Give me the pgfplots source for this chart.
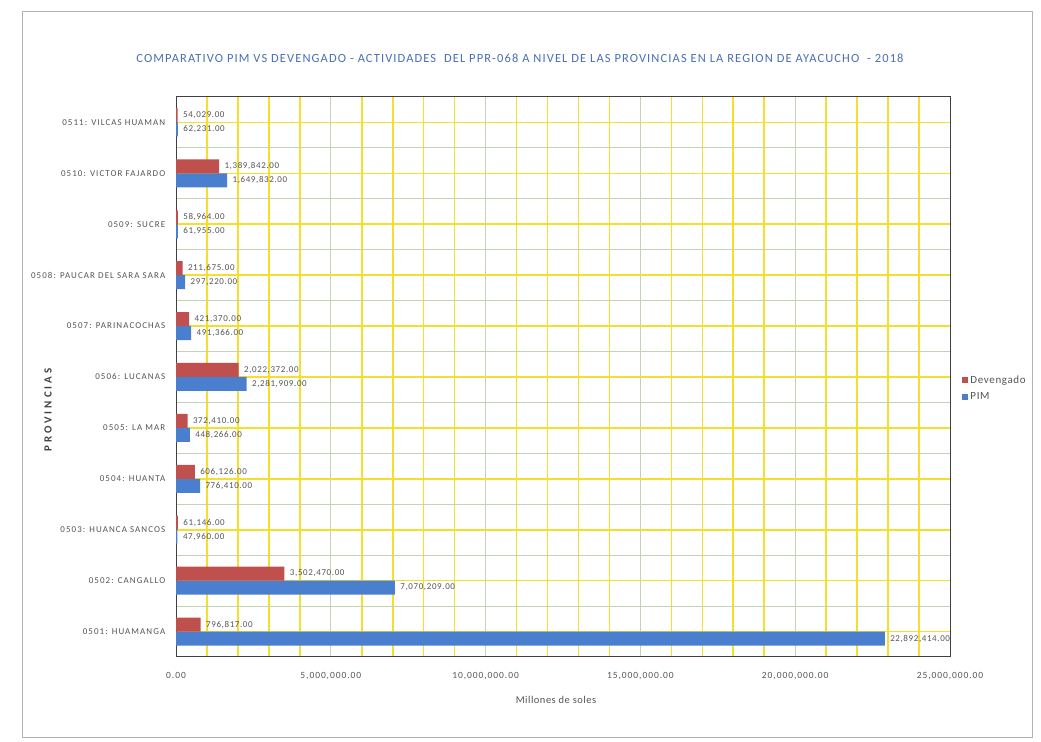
\documentclass[border=0pt]{standalone}
\usepackage{pgfplots}
\pgfplotsset{compat=1.18}
\usepackage{pgfplotstable}
\usepackage{fontspec}
\setmainfont{Carlito}

\definecolor{devred}{HTML}{C0504D}
\definecolor{pimblue}{HTML}{4A7FD0}
\definecolor{gridyellow}{HTML}{F3E02C}
\definecolor{gridgreen}{HTML}{C5D3B5}
\definecolor{titleblue}{HTML}{4A6FB5}
\definecolor{labgrey}{HTML}{555555}

% PIM and Devengado by province (soles); row 0 is at the bottom of the chart
\pgfplotstableread{
y  pim       pimlab         dev      devlab
0  22892414  22,892,414.00  796817   796,817.00
1  7070209   7,070,209.00   3502470  3,502,470.00
2  47960     47,960.00      61146    61,146.00
3  776410    776,410.00     606126   606,126.00
4  448266    448,266.00     372410   372,410.00
5  2281909   2,281,909.00   2022372  2,022,372.00
6  491366    491,366.00     421370   421,370.00
7  297220    297,220.00     211675   211,675.00
8  61955     61,955.00      58964    58,964.00
9  1649832   1,649,832.00   1389842  1,389,842.00
10 62231     62,231.00      54029    54,029.00
}\provdata

\begin{document}
\begin{tikzpicture}
\fill[white] (0bp,0bp) rectangle (1041bp,742bp);
\draw[black!30, line width=0.8bp] (22bp,5bp) rectangle (1032bp,731bp);

\node[text=titleblue, font=\fontsize{12.5}{14}\selectfont\addfontfeature{LetterSpace=9}] at (520bp,684bp)
  {COMPARATIVO PIM VS DEVENGADO - ACTIVIDADES \ DEL PPR-068 A NIVEL DE LAS PROVINCIAS EN LA REGION DE AYACUCHO \ - 2018};

\begin{axis}[
  at={(176bp,85bp)}, anchor=south west, scale only axis,
  width=774bp, height=560bp,
  xbar=0pt, bar width=14bp,
  xmin=0, xmax=25000000, ymin=-0.5, ymax=10.5,
  scaled x ticks=false,
  xtick={0,5000000,10000000,15000000,20000000,25000000},
  xticklabels={0.00,{5,000,000.00},{10,000,000.00},{15,000,000.00},{20,000,000.00},{25,000,000.00}},
  minor x tick num=4,
  ytick={0,1,2,3,4,5,6,7,8,9,10},
  yticklabels={0501: HUAMANGA,0502: CANGALLO,0503: HUANCA SANCOS,0504: HUANTA,0505: LA MAR,0506: LUCANAS,0507: PARINACOCHAS,0508: PAUCAR DEL SARA SARA,0509: SUCRE,0510: VICTOR FAJARDO,0511: VILCAS HUAMAN},
  minor ytick={-0.5,0.5,1.5,2.5,3.5,4.5,5.5,6.5,7.5,8.5,9.5,10.5},
  grid=both,
  major x grid style={gridgreen, line width=1bp},
  minor x grid style={gridyellow, line width=1.6bp},
  major y grid style={gridyellow, line width=1.6bp},
  minor y grid style={gridgreen, line width=1bp},
  tick style={draw=none},
  axis line style={black!75, line width=1bp},
  every outer x axis line/.append style={line width=2bp},
  x tick label style={font=\fontsize{9.5}{11}\selectfont\addfontfeature{LetterSpace=10}, text=labgrey, yshift=-12bp},
  y tick label style={font=\fontsize{9}{11}\selectfont\addfontfeature{LetterSpace=12}, text=labgrey, xshift=-3bp},
  /pgf/number format/assume math mode=true,
  reverse legend,
  legend cell align=left,
  legend style={at={(1.012,0.48)}, anchor=west, draw=none, fill=none,
    font=\fontsize{11}{12}\selectfont\addfontfeature{LetterSpace=6}, text=labgrey, row sep=4bp},
  legend image code/.code={\fill[#1,draw=none] (0bp,-3bp) rectangle (6bp,3bp);},
  nodes near coords,
  point meta=explicit symbolic,
  every node near coord/.append style={font=\fontsize{9}{10}\selectfont\addfontfeature{LetterSpace=7}, text=labgrey, anchor=west, xshift=2bp},
  clip=false,
]
\addplot[fill=pimblue, draw=none] table[x=pim, y=y, meta=pimlab] {\provdata};
\addlegendentry{PIM}
\addplot[fill=devred, draw=none] table[x=dev, y=y, meta=devlab] {\provdata};
\addlegendentry{Devengado}
\end{axis}

\node[font=\bfseries\fontsize{11}{12}\selectfont\addfontfeature{LetterSpace=27}, text=black!75, rotate=90] at (48bp,332bp) {PROVINCIAS};
\node[font=\fontsize{10.5}{12}\selectfont\addfontfeature{LetterSpace=5}, text=labgrey] at (556bp,42bp) {Millones de soles};
\end{tikzpicture}
\end{document}
